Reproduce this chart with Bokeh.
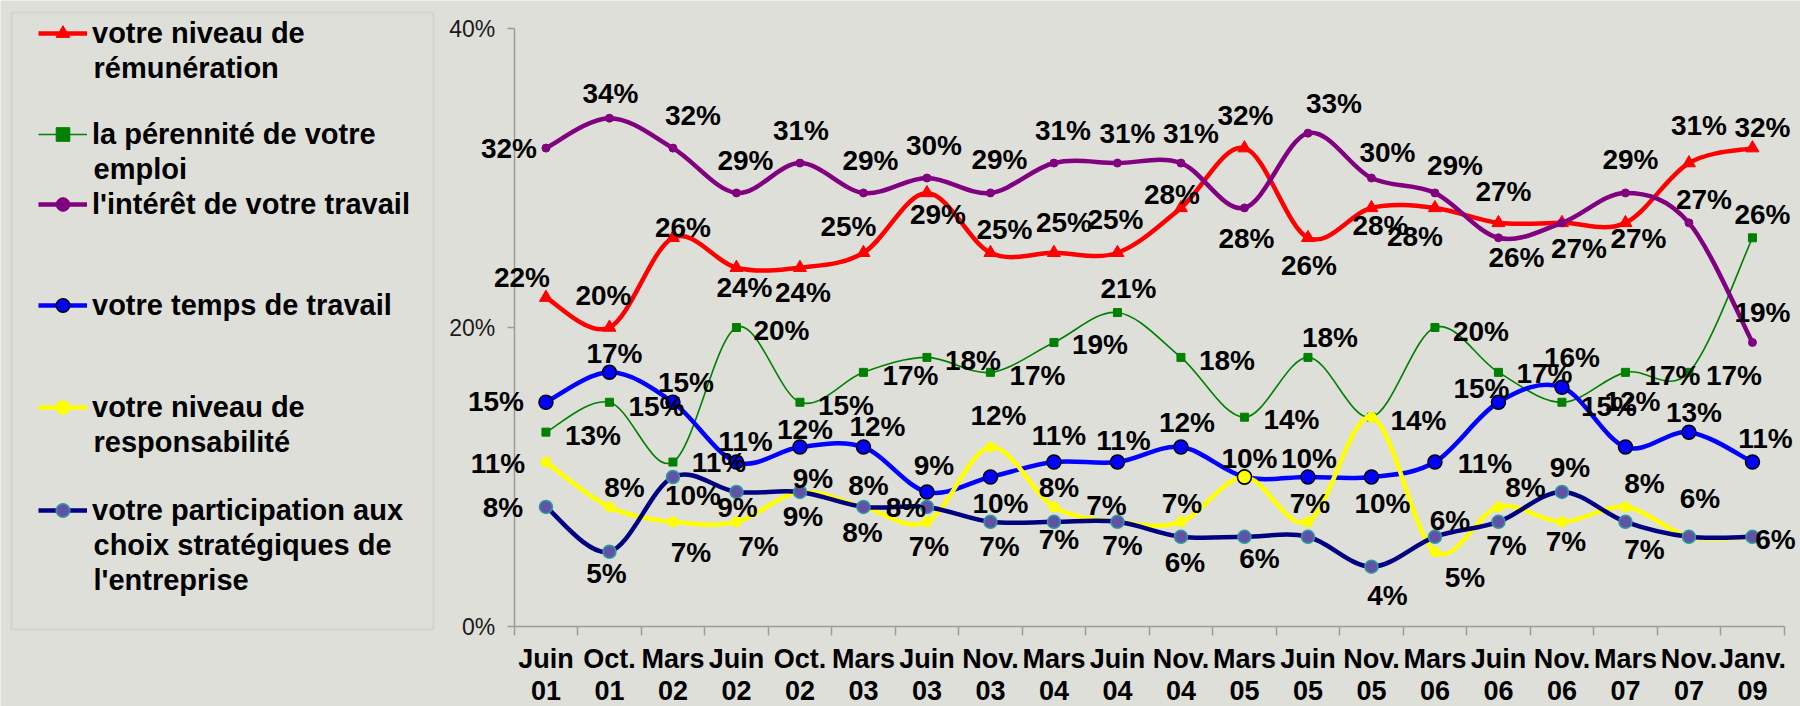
from bokeh.plotting import figure
from bokeh.models import (Range1d, FixedTicker, ColumnDataSource, LabelSet, Label,
                          Legend, LegendItem, BoxAnnotation)
from bokeh.core.properties import value
from bokeh.embed import file_html
from bokeh.resources import INLINE

# ---------------- data ----------------
categories = ["Juin 01", "Oct. 01", "Mars 02", "Juin 02", "Oct. 02", "Mars 03",
              "Juin 03", "Nov. 03", "Mars 04", "Juin 04", "Nov. 04", "Mars 05",
              "Juin 05", "Nov. 05", "Mars 06", "Juin 06", "Nov. 06", "Mars 07",
              "Nov. 07", "Janv. 09"]

remuneration   = [22, 20, 26, 24, 24, 25, 29, 25, 25, 25, 28, 32, 26, 28, 28, 27, 27, 27, 31, 32]
perennite      = [13, 15, 11, 20, 15, 17, 18, 17, 19, 21, 18, 14, 18, 14, 20, 17, 15, 17, 17, 26]
interet        = [32, 34, 32, 29, 31, 29, 30, 29, 31, 31, 31, 28, 33, 30, 29, 26, 27, 29, 27, 19]
temps          = [15, 17, 15, 11, 12, 12, 9, 10, 11, 11, 12, 10, 10, 10, 11, 15, 16, 12, 13, 11]
responsabilite = [11, 8, 7, 7, 9, 8, 7, 12, 8, 7, 7, 10, 7, 14, 5, 8, 7, 8, 6, 6]
participation  = [8, 5, 10, 9, 9, 8, 8, 7, 7, 7, 6, 6, 6, 4, 6, 7, 9, 7, 6, 6]

series_names = [["votre niveau de", "rémunération"],
                ["la pérennité de votre", "emploi"],
                ["l'intérêt de votre travail"],
                ["votre temps de travail"],
                ["votre niveau de", "responsabilité"],
                ["votre participation aux", "choix stratégiques de", "l'entreprise"]]

# ---------------- styling: label offsets in screen px (dx, dy downwards); None = hidden ----------------
off_red = [(-24, -20), (-6, -32), (10, -10), (8, 20), (3, 25), (-15, -26), (11, 22), (14, -23),
           (10, -30), (-2, -33), (-9, -13), (1, -33), (1, 28), (9, 18), (-20, 29), (5, -31),
           (17, 26), (13, 16), (10, -38), (10, -21)]
off_green = [(47, 3), (47, 4), (46, 0), (45, 3), (46, 3), (47, 3), (46, 3), (47, 3), (46, 2),
             (11, -24), (46, 3), (47, 2), (22, -20), None, (46, 4), (46, 1), (47, 4), (47, 3),
             (45, 3), (10, -23)]
off_purple = [(-37, 0), (1, -25), (20, -33), (9, -32), (1, -33), (7, -32), (7, -33), (9, -33),
              (9, -33), (10, -30), (10, -30), (2, 31), (26, -30), (16, -26), (20, -27), (18, 20),
              None, (5, -33), (15, -23), (10, -30)]
off_blue = [(-50, -1), (5, -19), (13, -20), (9, -21), (5, -18), (14, -21), (7, -26), (10, 26),
            (5, -27), (6, -22), (6, -25), (5, -19), (1, -19), (11, 26), (50, 1), (-17, -14),
            (10, -30), (7, -46), (5, -20), (13, -24)]
off_yellow = [(-48, 1), (15, -19), (18, 31), (22, 25), (3, 25), (-1, 26), (2, 25), (8, -32),
              (5, -19), (-11, -16), (1, -18), None, (2, -18), (47, 3), (30, 26), (27, -19),
              (4, 20), (19, -23), (11, -38), (23, 3)]
off_navy = [(-43, 1), (-3, 22), (20, 18), (1, 16), (13, -13), (5, -21), (-21, 1), (9, 25),
            (5, 18), (5, 24), (4, 26), (15, 22), None, (16, 29), (15, -16), (8, 24), (8, -24),
            (19, 28), None, None]

# page y of each legend entry's first text line (centre) and the line pitch inside an entry
legend_rows = [33, 134, 204, 305, 407, 510]
LEGEND_LINE = 34.5

BG = "#DFDFD9"
AX = "#9C9C9C"
FONT = "Liberation Sans"

W, H = 1800, 706
n = len(categories)
PX_CAT = 63.5          # px per category
PX_PCT = 14.95         # px per percent
AXIS_X = 513.7         # canvas x of the value axis
AXIS_Y = 626.0         # canvas y of the category axis
xs = [i + 0.5 for i in range(n)]

p = figure(width=W, height=H, output_backend="svg", toolbar_location=None,
           x_range=Range1d(-AXIS_X / PX_CAT, (W - AXIS_X) / PX_CAT),
           y_range=Range1d(-(H - AXIS_Y) / PX_PCT, AXIS_Y / PX_PCT),
           min_border=0, min_border_left=0, min_border_right=0, min_border_top=0,
           min_border_bottom=0,
           background_fill_color=BG, border_fill_color=BG, outline_line_color=None)
p.grid.visible = False

# x axis: fixed at 0%, ticks between categories
p.xaxis.fixed_location = 0
p.xaxis.bounds = (0, n)
p.xaxis.ticker = FixedTicker(ticks=[], minor_ticks=list(range(n + 1)))
p.xaxis.axis_line_color = AX
p.xaxis.axis_line_width = 1.5
p.xaxis.minor_tick_line_color = AX
p.xaxis.minor_tick_line_width = 1.5
p.xaxis.minor_tick_out = 9
p.xaxis.minor_tick_in = 0
p.xaxis.major_tick_line_color = None
p.xaxis.major_label_text_font_size = "1px"

# y axis: fixed at category 0
p.yaxis.fixed_location = 0
p.yaxis.bounds = (0, 40)
p.yaxis.ticker = FixedTicker(ticks=[0, 20, 40], minor_ticks=[])
p.yaxis.major_label_overrides = {0: "0%", 20: "20%", 40: "40%"}
p.yaxis.axis_line_color = AX
p.yaxis.axis_line_width = 1.5
p.yaxis.major_tick_line_color = AX
p.yaxis.major_tick_line_width = 1.5
p.yaxis.major_tick_out = 7
p.yaxis.major_tick_in = 0
p.yaxis.minor_tick_line_color = None
p.yaxis.major_label_standoff = 12
p.yaxis.major_label_text_font = FONT
p.yaxis.major_label_text_font_size = "23px"
p.yaxis.major_label_text_color = "#1a1a1a"


def bezier_source(vals):
    pts = list(zip(xs, vals))
    m = len(pts)
    d = dict(x0=[], y0=[], x1=[], y1=[], cx0=[], cy0=[], cx1=[], cy1=[])
    for k in range(m - 1):
        p0 = pts[max(k - 1, 0)]
        p1 = pts[k]
        p2 = pts[k + 1]
        p3 = pts[min(k + 2, m - 1)]
        d["x0"].append(p1[0]); d["y0"].append(p1[1])
        d["x1"].append(p2[0]); d["y1"].append(p2[1])
        d["cx0"].append(p1[0] + (p2[0] - p0[0]) / 6.0)
        d["cy0"].append(p1[1] + (p2[1] - p0[1]) / 6.0)
        d["cx1"].append(p2[0] - (p3[0] - p1[0]) / 6.0)
        d["cy1"].append(p2[1] - (p3[1] - p1[1]) / 6.0)
    return ColumnDataSource(d)


series = [
    dict(vals=remuneration, color="#FF0000", lw=4.5, marker="triangle", size=13,
         fill="#FF0000", mline="#FF0000", mlw=1, off=off_red),
    dict(vals=perennite, color="#008000", lw=1.6, marker="square", size=8,
         fill="#008000", mline="#008000", mlw=1, off=off_green),
    dict(vals=interet, color="#800080", lw=4.5, marker="circle", size=8,
         fill="#800080", mline="#800080", mlw=1, off=off_purple),
    dict(vals=temps, color="#0000FF", lw=4.5, marker="circle", size=14,
         fill="#0000FF", mline="#000000", mlw=1.5, off=off_blue),
    dict(vals=responsabilite, color="#FFFF00", lw=4.5, marker="circle", size=10,
         fill="#FFFF00", mline="#FFFF00", mlw=1, off=off_yellow),
    dict(vals=participation, color="#000080", lw=4.5, marker="circle", size=13,
         fill="#6152A8", mline="#2A9D9D", mlw=1.5, off=off_navy),
]


# page pixel -> data helpers (for the legend decoration only)
def px_to_x(page_x):
    return (page_x - AXIS_X) / PX_CAT


def px_to_y(page_y):
    return (AXIS_Y - page_y) / PX_PCT


p.add_layout(BoxAnnotation(left=px_to_x(11), right=px_to_x(433), top=px_to_y(12),
                           bottom=px_to_y(629), fill_alpha=0, line_color="#BDBDBD",
                           line_width=2))

legend_entries = []
for k, s in enumerate(series):
    p.bezier(x0="x0", y0="y0", x1="x1", y1="y1", cx0="cx0", cy0="cy0", cx1="cx1", cy1="cy1",
             source=bezier_source(s["vals"]), line_color=s["color"], line_width=s["lw"],
             line_cap="round")
    # one-point line: invisible on the plot, used for the legend's line sample
    sample = p.line(x=xs[:1], y=s["vals"][:1], line_color=s["color"], line_width=s["lw"])
    sc = p.scatter(x=xs, y=s["vals"], marker=s["marker"], size=s["size"],
                   fill_color=s["fill"], line_color=s["mline"], line_width=s["mlw"])
    if k == 4:
        HL = 11
        p.scatter(x=[xs[HL]], y=[s["vals"][HL]], marker="circle", size=14,
                  fill_color="#FFFF00", line_color="#000000", line_width=1.5)
    legend_entries.append((sample, sc))

# value labels (on top)
for s in series:
    txt, xo, yo = [], [], []
    for v, o in zip(s["vals"], s["off"]):
        if o is None:
            txt.append(""); xo.append(0); yo.append(0)
        else:
            txt.append(f"{v}%"); xo.append(o[0]); yo.append(-o[1])
    src = ColumnDataSource(dict(x=xs, y=s["vals"], text=txt, xo=xo, yo=yo))
    p.add_layout(LabelSet(x="x", y="y", text="text", x_offset="xo", y_offset="yo", source=src,
                          text_font=value(FONT), text_font_size=value("28px"),
                          text_font_style="bold", text_color="black",
                          text_align="center", text_baseline="middle"))

# category labels below the axis (two lines)
line1 = [c.rsplit(" ", 1)[0] for c in categories]
line2 = [c.rsplit(" ", 1)[1] for c in categories]
for texts, off in ((line1, -41), (line2, -73)):
    src = ColumnDataSource(dict(x=xs, y=[0] * n, text=texts))
    p.add_layout(LabelSet(x="x", y="y", text="text", y_offset=off, source=src,
                          text_font=value(FONT), text_font_size=value("27px"),
                          text_font_style="bold", text_color="black",
                          text_align="center", text_baseline="alphabetic"))

# legend: one legend per entry (glyph + first line), continuation lines as labels
ITEM_H = 34.8
TEXT_X = 93
for (sample, sc), lines, row in zip(legend_entries, series_names, legend_rows):
    lg = Legend(items=[LegendItem(label=lines[0], renderers=[sample, sc])],
                location=(38, H - (row + ITEM_H / 2.0)), orientation="vertical", spacing=0,
                padding=0, margin=0, glyph_width=49, glyph_height=34, label_standoff=5,
                label_text_font=FONT, label_text_font_size="29px",
                label_text_font_style="bold", label_text_color="black",
                label_text_line_height=1.2, border_line_color=None,
                background_fill_alpha=0)
    p.add_layout(lg)
    for j, extra in enumerate(lines[1:], start=1):
        p.add_layout(Label(x=px_to_x(TEXT_X), y=px_to_y(row + j * LEGEND_LINE), text=extra,
                           text_font=FONT, text_font_size="29px", text_font_style="bold",
                           text_color="black", text_align="left", text_baseline="middle"))

html = file_html(p, INLINE)
html = html.replace("<body>", '<body style="background-color: #DFDFD9;">', 1)
open("out.html", "w").write(html)
